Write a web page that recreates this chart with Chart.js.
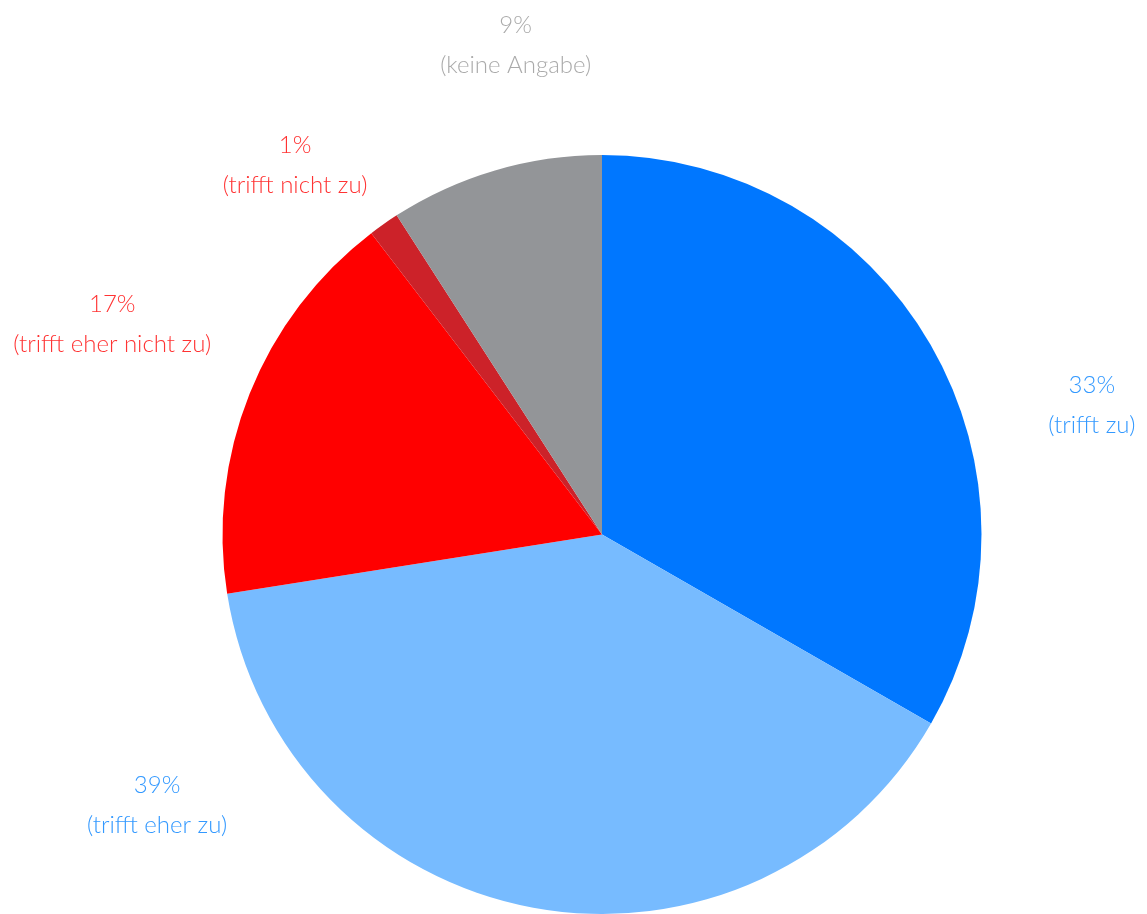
<!DOCTYPE html>
<html>
<head>
<meta charset="utf-8">
<script src="https://cdn.jsdelivr.net/npm/chart.js@4/dist/chart.umd.min.js"></script>
<style>
    html, body { margin: 0; padding: 0; background: #ffffff; overflow: hidden; }
    #wrap { width: 1147px; height: 914px; position: relative; }
</style>
</head>
<body>
<div id="wrap"><canvas id="pie"></canvas></div>
<script>
// data
const categories = ['trifft zu', 'trifft eher zu', 'trifft eher nicht zu', 'trifft nicht zu', 'keine Angabe'];
const shares = [33.3, 39.2, 17.1, 1.3, 9.1];
const percentLabels = ['33%', '39%', '17%', '1%', '9%'];

const sliceColors = ['#0077ff', '#77bbff', '#ff0000', '#cc2229', '#939598'];
const textColors = ['#3399ff', '#3399ff', '#ff3333', '#ff3333', '#aaaaaa'];

// where each label sits: angle (deg, clockwise from 12 o'clock) and distance in radii
const labelAngles = [75.2, 238.7, 293.2, 320.3, 350.0];
const labelDistances = [1.335, 1.372, 1.404, 1.266, 1.31];

const outsideLabels = {
    id: 'outsideLabels',
    afterDraw(chart) {
        const ctx = chart.ctx;
        const arc = chart.getDatasetMeta(0).data[0];
        const cx = arc.x;
        const cy = arc.y;
        const r = arc.outerRadius;
        ctx.save();
        ctx.font = '300 24px Lato, "Open Sans", sans-serif';
        ctx.textAlign = 'center';
        ctx.textBaseline = 'middle';
        categories.forEach((cat, i) => {
            const a = labelAngles[i] * Math.PI / 180;
            const x = cx + Math.sin(a) * r * labelDistances[i];
            const y = cy - Math.cos(a) * r * labelDistances[i];
            ctx.fillStyle = textColors[i];
            ctx.fillText(percentLabels[i], x, y - 20);
            ctx.fillText('(' + cat + ')', x, y + 20);
        });
        ctx.restore();
    }
};

const pieCtx = document.getElementById('pie').getContext('2d');
new Chart(pieCtx, {
    type: 'pie',
    data: {
        labels: categories,
        datasets: [{
            data: shares,
            backgroundColor: sliceColors,
            borderWidth: 0
        }]
    },
    options: {
        responsive: true,
        maintainAspectRatio: false,
        animation: false,
        layout: {
            padding: { top: 155, bottom: 0, left: 200, right: 143 }
        },
        plugins: {
            legend: { display: false },
            tooltip: { enabled: false }
        }
    },
    plugins: [outsideLabels]
});
</script>
</body>
</html>
